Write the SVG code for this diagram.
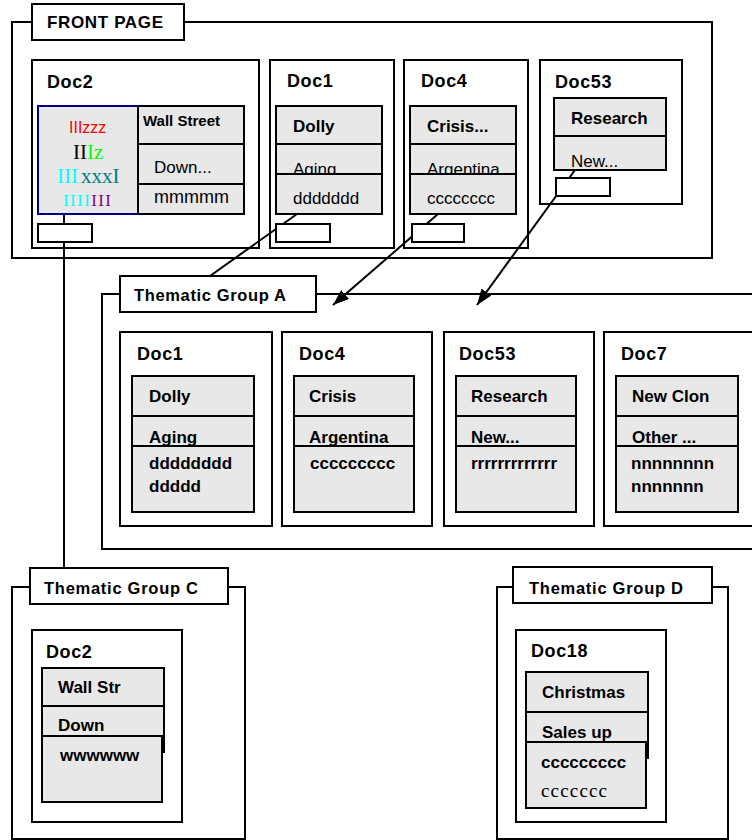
<svg xmlns="http://www.w3.org/2000/svg" width="752" height="840" viewBox="0 0 752 840">
  <style>
    .frame { fill: none; stroke: #000; stroke-width: 2; }
    .label { fill: #fff; stroke: #000; stroke-width: 2; }
    .cell { fill: #e8e8e8; stroke: #000; stroke-width: 2; }
    .tag { fill: #fff; stroke: #000; stroke-width: 2; }
    .wire { fill: none; stroke: #000; stroke-width: 2; }
    text { font-family: "Liberation Sans", Arial, sans-serif; fill: #000; }
    .title { font-size: 18px; font-weight: bold; letter-spacing: 0.6px; }
    .group { font-size: 16.5px; font-weight: bold; }
    .head { font-size: 17px; font-weight: bold; }
    .body { font-size: 17px; }
    .bb { font-size: 17px; font-weight: bold; }
    .serif { font-family: "Liberation Serif", "Times New Roman", serif; }
  </style>
  <defs>
    <marker id="arrow" viewBox="0 0 16 12" refX="16" refY="6" markerWidth="16" markerHeight="12" orient="auto" markerUnits="userSpaceOnUse">
      <path d="M0,0 L16,6 L0,12 z" fill="#000"/>
    </marker>
  </defs>

  <!-- links between documents and groups -->
  <g id="connectors">
    <line class="wire" x1="64" y1="214" x2="64" y2="568"/>
    <line class="wire" x1="297" y1="214" x2="210" y2="276"/>
    <line class="wire" x1="438" y1="214" x2="333" y2="305" marker-end="url(#arrow)"/>
    <line class="wire" x1="575" y1="170" x2="477" y2="305" marker-end="url(#arrow)"/>
  </g>

  <!-- FRONT PAGE -->
  <g id="front-page">
    <rect class="frame" x="12" y="22" width="700" height="236"/>
    <rect class="label" x="32" y="4" width="152" height="36"/>
    <text x="47" y="28" font-size="17" font-weight="bold" textLength="116">FRONT PAGE</text>
  </g>

  <g id="fp-doc2">
    <rect class="frame" x="32" y="60" width="227" height="188"/>
    <text class="title" x="47" y="88">Doc2</text>
    <rect x="38" y="106" width="100" height="108" fill="#e8e8e8" stroke="#000080" stroke-width="2"/>
    <text x="69" y="133" font-size="16" style="fill:#ff0000">IIIzzz</text>
    <text class="serif" x="73" y="159" font-size="21"><tspan>II</tspan><tspan style="fill:#00ff00">Iz</tspan></text>
    <text class="serif" x="57" y="183" font-size="21"><tspan style="fill:#00ffff">III</tspan><tspan dx="3" style="fill:#008080">xxxI</tspan></text>
    <text class="serif" x="63" y="206" font-size="17" textLength="48"><tspan style="fill:#00ffff">IIII</tspan><tspan style="fill:#800080">III</tspan></text>
    <rect class="cell" x="138" y="106" width="106" height="38"/>
    <text x="143" y="126" font-size="15" font-weight="bold">Wall Street</text>
    <rect class="cell" x="138" y="144" width="106" height="40"/>
    <text class="body" x="154" y="173">Down...</text>
    <rect class="cell" x="138" y="184" width="106" height="30"/>
    <text x="154" y="203" font-size="18">mmmmm</text>
    <rect class="tag" x="38" y="224" width="54" height="18"/>
  </g>

  <g id="fp-doc1">
    <rect class="frame" x="270" y="60" width="124" height="188"/>
    <text class="title" x="287" y="87">Doc1</text>
    <rect class="cell" x="276" y="106" width="106" height="38"/>
    <text class="head" x="293" y="132">Dolly</text>
    <rect class="cell" x="276" y="144" width="106" height="30"/>
    <text class="body" x="293" y="175">Aging...</text>
    <rect class="cell" x="276" y="174" width="106" height="40"/>
    <text class="body" x="293" y="204">ddddddd</text>
    <rect class="tag" x="276" y="224" width="54" height="18"/>
  </g>

  <g id="fp-doc4">
    <rect class="frame" x="404" y="60" width="124" height="188"/>
    <text class="title" x="421" y="87">Doc4</text>
    <rect class="cell" x="410" y="106" width="106" height="38"/>
    <text class="head" x="427" y="132">Crisis...</text>
    <rect class="cell" x="410" y="144" width="106" height="30"/>
    <text class="body" x="427" y="175">Argentina</text>
    <rect class="cell" x="410" y="174" width="106" height="40"/>
    <text class="body" x="427" y="204">cccccccc</text>
    <rect class="tag" x="412" y="224" width="52" height="18"/>
  </g>

  <g id="fp-doc53">
    <rect class="frame" x="540" y="60" width="142" height="144"/>
    <text class="title" x="555" y="88">Doc53</text>
    <rect class="cell" x="554" y="98" width="112" height="38"/>
    <text class="head" x="571" y="124">Research</text>
    <rect class="cell" x="554" y="136" width="112" height="34"/>
    <text class="body" x="571" y="167">New...</text>
    <rect class="tag" x="556" y="178" width="54" height="18"/>
  </g>

  <!-- Thematic Group A -->
  <g id="group-a">
    <rect class="frame" x="102" y="294" width="700" height="255"/>
    <rect class="label" x="120" y="276" width="196" height="36"/>
    <text class="group" x="134" y="301" textLength="152">Thematic Group A</text>
  </g>

  <g id="ga-doc1">
    <rect class="frame" x="120" y="332" width="152" height="194"/>
    <text class="title" x="137" y="360">Doc1</text>
    <rect class="cell" x="132" y="376" width="122" height="40"/>
    <text class="bb" x="149" y="402">Dolly</text>
    <rect class="cell" x="132" y="416" width="122" height="30"/>
    <text class="bb" x="149" y="443">Aging</text>
    <rect class="cell" x="132" y="446" width="122" height="66"/>
    <text class="bb" x="149" y="469">dddddddd</text>
    <text class="bb" x="149" y="492">ddddd</text>
  </g>

  <g id="ga-doc4">
    <rect class="frame" x="282" y="332" width="150" height="194"/>
    <text class="title" x="299" y="360">Doc4</text>
    <rect class="cell" x="294" y="376" width="120" height="40"/>
    <text class="bb" x="309" y="402">Crisis</text>
    <rect class="cell" x="294" y="416" width="120" height="30"/>
    <text class="bb" x="309" y="443">Argentina</text>
    <rect class="cell" x="294" y="446" width="120" height="66"/>
    <text class="bb" x="310" y="469">ccccccccc</text>
  </g>

  <g id="ga-doc53">
    <rect class="frame" x="444" y="332" width="150" height="194"/>
    <text class="title" x="459" y="360">Doc53</text>
    <rect class="cell" x="456" y="376" width="120" height="40"/>
    <text class="bb" x="471" y="402">Research</text>
    <rect class="cell" x="456" y="416" width="120" height="30"/>
    <text class="bb" x="471" y="443">New...</text>
    <rect class="cell" x="456" y="446" width="120" height="66"/>
    <text class="bb" x="471" y="469">rrrrrrrrrrrrr</text>
  </g>

  <g id="ga-doc7">
    <rect class="frame" x="604" y="332" width="160" height="194"/>
    <text class="title" x="621" y="360">Doc7</text>
    <rect class="cell" x="616" y="376" width="122" height="40"/>
    <text class="bb" x="632" y="402">New Clon</text>
    <rect class="cell" x="616" y="416" width="122" height="30"/>
    <text class="bb" x="632" y="443">Other ...</text>
    <rect class="cell" x="616" y="446" width="122" height="66"/>
    <text class="bb" x="631" y="469">nnnnnnnn</text>
    <text class="bb" x="631" y="492">nnnnnnn</text>
  </g>

  <!-- Thematic Group C -->
  <g id="group-c">
    <rect class="frame" x="12" y="587" width="233" height="252"/>
    <rect class="label" x="30" y="568" width="198" height="36"/>
    <text class="group" x="44" y="594" textLength="154">Thematic Group C</text>
  </g>

  <g id="gc-doc2">
    <rect class="frame" x="32" y="630" width="150" height="192"/>
    <text class="title" x="46" y="658">Doc2</text>
    <rect class="cell" x="42" y="668" width="122" height="38"/>
    <text class="bb" x="58" y="693">Wall Str</text>
    <rect class="cell" x="42" y="706" width="122" height="46"/>
    <text class="bb" x="58" y="731">Down</text>
    <rect class="cell" x="42" y="736" width="120" height="66"/>
    <text class="bb" x="60" y="761">wwwwww</text>
  </g>

  <!-- Thematic Group D -->
  <g id="group-d">
    <rect class="frame" x="497" y="587" width="231" height="252"/>
    <rect class="label" x="513" y="567" width="199" height="36"/>
    <text class="group" x="529" y="594" textLength="154">Thematic Group D</text>
  </g>

  <g id="gd-doc18">
    <rect class="frame" x="516" y="630" width="150" height="192"/>
    <text class="title" x="531" y="657">Doc18</text>
    <rect class="cell" x="526" y="672" width="122" height="40"/>
    <text class="bb" x="542" y="698">Christmas</text>
    <rect class="cell" x="526" y="712" width="122" height="46"/>
    <text class="bb" x="542" y="738">Sales up</text>
    <rect class="cell" x="526" y="742" width="120" height="66"/>
    <text class="bb" x="541" y="768">ccccccccc</text>
    <text class="serif" x="541" y="797" font-size="19" textLength="66">ccccccc</text>
  </g>
</svg>
